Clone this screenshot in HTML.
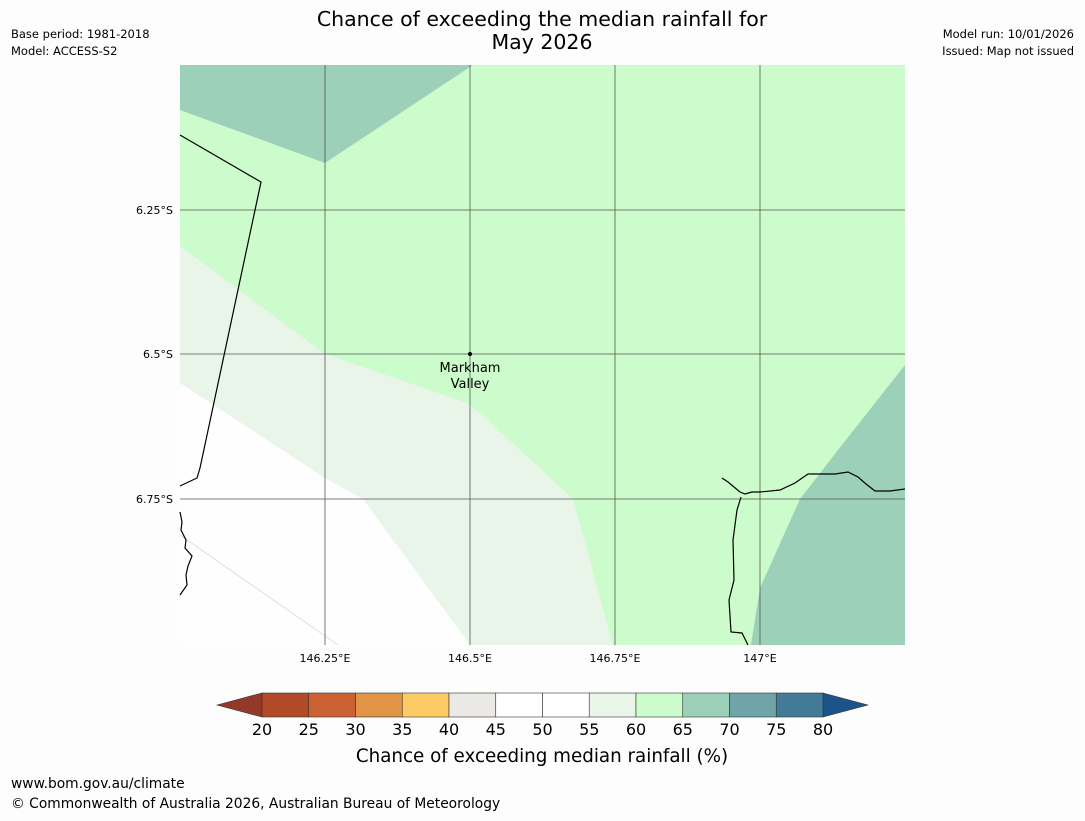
<!DOCTYPE html>
<html><head><meta charset="utf-8"><style>
body{margin:0;background:#fdfdfd;width:1085px;height:816px;overflow:hidden;font-family:"Liberation Sans","DejaVu Sans",sans-serif}
svg text{font-family:"DejaVu Sans","Liberation Sans",sans-serif}
</style></head><body>
<svg width="1085" height="816">
<rect width="1085" height="816" fill="#fdfdfd"/>
<text x="542" y="26" font-size="20.5" text-anchor="middle">Chance of exceeding the median rainfall for</text>
<text x="542" y="49" font-size="20.5" text-anchor="middle">May 2026</text>
<text x="11" y="38" font-size="11.5">Base period: 1981-2018</text>
<text x="11" y="55" font-size="11.5">Model: ACCESS-S2</text>
<text x="1074" y="38" font-size="11.5" text-anchor="end">Model run: 10/01/2026</text>
<text x="1074" y="55" font-size="11.5" text-anchor="end">Issued: Map not issued</text>
<g>
<rect x="180" y="65" width="725" height="580" fill="#ccfccb"/>
<polygon points="180,65 473,65 325,163 180,110" fill="#9dd0b9"/>
<polygon points="180,246 325,354 470,404 573,499 613,645 180,645" fill="#eaf5ea"/>
<polygon points="180,383 325,478 363,499 470,645 180,645" fill="#fefefe"/>
<line x1="180" y1="535" x2="338" y2="645" stroke="#ccc" stroke-width="0.6"/>
<polygon points="905,365 838,450 800,499 760,588 751,645 905,645" fill="#9dd0b9"/>
<g stroke="#555" stroke-width="0.8" fill="none">
<line x1="325" y1="65" x2="325" y2="645"/><line x1="470" y1="65" x2="470" y2="645"/>
<line x1="615" y1="65" x2="615" y2="645"/><line x1="760" y1="65" x2="760" y2="645"/>
<line x1="180" y1="210" x2="905" y2="210"/><line x1="180" y1="354" x2="905" y2="354"/>
<line x1="180" y1="499" x2="905" y2="499"/>
</g>
<g stroke="#000" stroke-width="1.2" fill="none">
<polyline points="180,135 261,182 200,468 197,478 180,486"/>
<polyline points="180,512 182,522 181,530 186,540 185,548 192,556 188,566 186,575 187,585 180,595"/>
<polyline points="722,478 728,482 734,487 740,492 745,494 752,492 760,492 780,490 795,483 808,474 820,474 835,474 848,472 858,477 866,484 875,491 890,491 905,489"/>
<polyline points="741,497 737,510 733,540 734,580 729,600 731,632 742,633 748,645"/>
</g>
<circle cx="470" cy="354" r="2" fill="#000"/>
<text x="470" y="372" font-size="13" text-anchor="middle">Markham</text>
<text x="470" y="388" font-size="13" text-anchor="middle">Valley</text>
</g>
<g font-size="11">
<text x="173" y="214" text-anchor="end">6.25°S</text>
<text x="173" y="358" text-anchor="end">6.5°S</text>
<text x="173" y="503" text-anchor="end">6.75°S</text>
</g>
<g font-size="11" text-anchor="middle">
<text x="325" y="662">146.25°E</text><text x="470" y="662">146.5°E</text>
<text x="615" y="662">146.75°E</text><text x="760" y="662">147°E</text>
</g>
<g id="cbar"></g>
<text x="542" y="762" font-size="18.3" text-anchor="middle">Chance of exceeding median rainfall (%)</text>
<text x="11" y="788" font-size="13.8">www.bom.gov.au/climate</text>
<text x="11" y="808" font-size="13.8">© Commonwealth of Australia 2026, Australian Bureau of Meteorology</text>
</svg>
<script>
const ticks=[20,25,30,35,40,45,50,55,60,65,70,75,80];
const colors=["#b04a27","#cc6233","#e29446","#fdcb63","#ebe9e5","#ffffff","#ffffff","#eaf5ea","#ccfccb","#9dd0b9","#6fa5a8","#427b98"];
const g=document.getElementById('cbar');const ns='http://www.w3.org/2000/svg';
const x=v=>262+(v-20)*(561/60);
function mk(t,a){const e=document.createElementNS(ns,t);for(const k in a)e.setAttribute(k,a[k]);g.appendChild(e);return e;}
const lo=mk('polygon',{points:'217,705 262,693 262,717',fill:'#94392a',stroke:'#333','stroke-width':0.6});


const hi=mk('polygon',{points:'868,705 823,693 823,717',fill:'#1c5389',stroke:'#333','stroke-width':0.6});


colors.forEach((c,i)=>{const r=mk('rect',{x:x(ticks[i]),y:693,width:x(ticks[i+1])-x(ticks[i]),height:24,fill:c,stroke:'#333','stroke-width':0.6});

});
ticks.forEach(v=>{const t=mk('text',{x:x(v),y:735,'font-size':16,'text-anchor':'middle'});t.textContent=v;

});
</script>
</body></html>
